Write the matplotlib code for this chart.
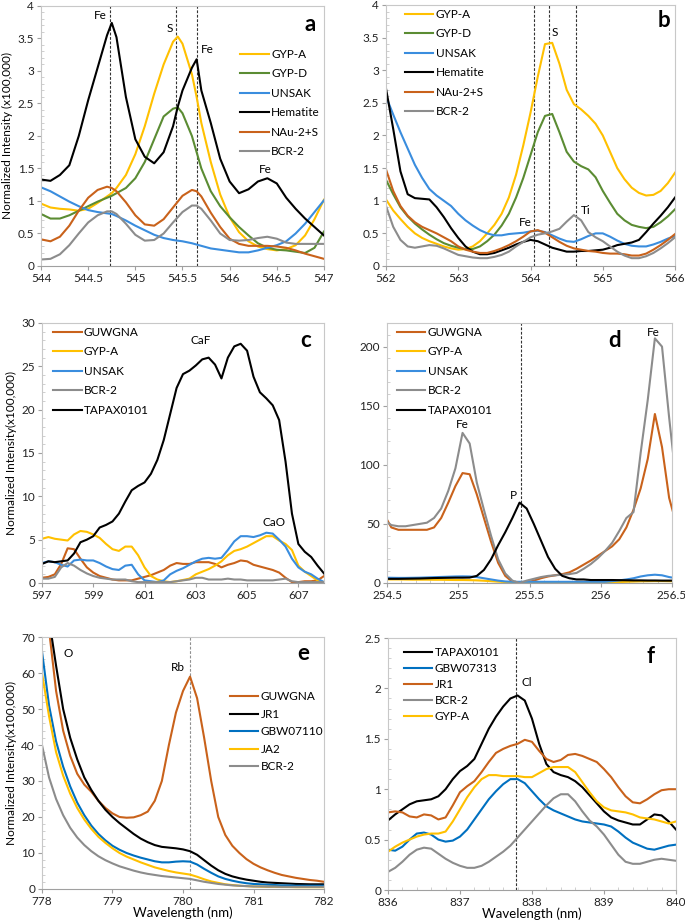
import matplotlib
matplotlib.use("Agg")
import matplotlib.pyplot as plt
from matplotlib.ticker import FuncFormatter, MultipleLocator, AutoMinorLocator

plt.rcParams['font.family'] = ['Lato', 'DejaVu Sans']

ORANGE = '#C9621B'
YELLOW = '#FFC000'
GREEN = '#5B8C33'
BLUE = '#3A8DDE'
BLUE2 = '#0070C0'
GRAY = '#8C8C8C'
BLACK = '#000000'

# ---------------- panel a ----------------
xa = [544.0, 544.1, 544.2, 544.3, 544.4, 544.5, 544.6, 544.7, 544.75, 544.8, 544.9,
      545.0, 545.1, 545.2, 545.3, 545.4, 545.45, 545.5, 545.6, 545.65, 545.7, 545.8, 545.9,
      546.0, 546.1, 546.2, 546.3, 546.4, 546.5, 546.6, 546.7, 546.8, 546.9, 547.0]
a_gypa = [0.96, 0.9, 0.88, 0.87, 0.85, 0.88, 0.97, 1.07, 1.12, 1.2, 1.4,
          1.72, 2.15, 2.65, 3.1, 3.45, 3.53, 3.42, 2.95, 2.6, 2.2, 1.6, 1.1,
          0.75, 0.52, 0.38, 0.3, 0.26, 0.24, 0.26, 0.32, 0.47, 0.72, 1.02]
a_gypd = [0.8, 0.73, 0.73, 0.78, 0.85, 0.92, 0.99, 1.05, 1.08, 1.12, 1.2,
          1.35, 1.6, 1.95, 2.3, 2.42, 2.44, 2.35, 2.0, 1.75, 1.5, 1.15, 0.92,
          0.75, 0.6, 0.47, 0.35, 0.28, 0.25, 0.24, 0.22, 0.2, 0.28, 0.53]
a_unsak = [1.21, 1.15, 1.07, 0.99, 0.92, 0.86, 0.83, 0.81, 0.8, 0.77, 0.7,
           0.62, 0.55, 0.48, 0.43, 0.4, 0.39, 0.38, 0.35, 0.33, 0.31, 0.27, 0.25,
           0.23, 0.21, 0.21, 0.24, 0.28, 0.32, 0.38, 0.5, 0.65, 0.83, 1.01]
a_hem = [1.33, 1.31, 1.4, 1.55, 2.0, 2.55, 3.05, 3.55, 3.74, 3.52, 2.6,
         1.95, 1.68, 1.58, 1.75, 2.15, 2.45, 2.7, 3.05, 3.18, 2.7, 2.2, 1.65,
         1.3, 1.12, 1.18, 1.3, 1.35, 1.27, 1.05, 0.88, 0.73, 0.6, 0.47]
a_nau = [0.41, 0.38, 0.45, 0.62, 0.85, 1.05, 1.17, 1.22, 1.2, 1.15, 0.98,
         0.78, 0.64, 0.62, 0.72, 0.9, 0.99, 1.08, 1.17, 1.15, 1.07, 0.82, 0.6,
         0.42, 0.34, 0.31, 0.31, 0.31, 0.3, 0.28, 0.24, 0.19, 0.15, 0.11]
a_bcr = [0.1, 0.11, 0.18, 0.32, 0.5, 0.67, 0.78, 0.84, 0.84, 0.8, 0.65,
         0.48, 0.39, 0.4, 0.5, 0.67, 0.75, 0.83, 0.93, 0.93, 0.88, 0.7, 0.5,
         0.4, 0.39, 0.4, 0.43, 0.45, 0.42, 0.36, 0.34, 0.34, 0.34, 0.34]

# ---------------- panel b ----------------
xb = [562 + 0.1 * i for i in range(41)]
b_gypa = [1.02, 0.85, 0.72, 0.6, 0.5, 0.43, 0.38, 0.34, 0.3, 0.27, 0.25, 0.26, 0.3, 0.38,
          0.5, 0.63, 0.8, 1.05, 1.4, 1.85, 2.35, 2.9, 3.4, 3.42, 3.1, 2.7, 2.48, 2.4, 2.3,
          2.18, 2.0, 1.75, 1.5, 1.33, 1.2, 1.12, 1.08, 1.09, 1.15, 1.27, 1.43]
b_gypd = [1.32, 1.1, 0.9, 0.76, 0.65, 0.56, 0.48, 0.41, 0.35, 0.31, 0.28, 0.26, 0.26, 0.3,
          0.38, 0.48, 0.62, 0.8, 1.05, 1.35, 1.7, 2.05, 2.3, 2.33, 2.05, 1.75, 1.6, 1.53,
          1.48, 1.36, 1.15, 0.97, 0.8, 0.7, 0.63, 0.6, 0.58, 0.6, 0.67, 0.76, 0.87]
b_unsak = [2.6, 2.32, 2.05, 1.8, 1.55, 1.35, 1.18, 1.08, 1.0, 0.92, 0.8, 0.7, 0.62, 0.55,
           0.5, 0.47, 0.47, 0.49, 0.5, 0.51, 0.53, 0.54, 0.52, 0.47, 0.42, 0.38, 0.37, 0.41,
           0.46, 0.5, 0.5, 0.45, 0.39, 0.34, 0.31, 0.3, 0.3, 0.33, 0.37, 0.42, 0.46]
b_hem = [2.72, 2.1, 1.45, 1.1, 1.04, 1.03, 1.02, 0.9, 0.75, 0.58, 0.43, 0.3, 0.22, 0.18,
         0.18, 0.2, 0.24, 0.28, 0.33, 0.37, 0.4, 0.38, 0.33, 0.28, 0.25, 0.22, 0.22, 0.23,
         0.23, 0.24, 0.25, 0.28, 0.32, 0.34, 0.36, 0.4, 0.52, 0.65, 0.77, 0.9, 1.05]
b_nau = [1.48, 1.15, 0.92, 0.77, 0.67, 0.6, 0.55, 0.5, 0.44, 0.38, 0.3, 0.25, 0.22, 0.2,
         0.2, 0.23, 0.27, 0.32, 0.38, 0.45, 0.53, 0.55, 0.51, 0.44, 0.37, 0.31, 0.27, 0.25,
         0.23, 0.22, 0.2, 0.19, 0.19, 0.18, 0.16, 0.16, 0.19, 0.25, 0.32, 0.4, 0.49]
b_bcr = [0.92, 0.6, 0.4, 0.3, 0.28, 0.3, 0.32, 0.31, 0.27, 0.22, 0.17, 0.15, 0.13, 0.12,
         0.12, 0.14, 0.17, 0.22, 0.3, 0.37, 0.44, 0.48, 0.5, 0.53, 0.57, 0.68, 0.78, 0.7,
         0.52, 0.44, 0.38, 0.3, 0.22, 0.16, 0.12, 0.12, 0.15, 0.2, 0.27, 0.35, 0.44]

# ---------------- panel c ----------------
xc = [597 + 0.25 * i for i in range(45)]
c_guw = [0.6, 0.7, 1.0, 2.2, 4.0, 3.9, 2.8, 1.8, 1.2, 0.8, 0.6, 0.4, 0.3, 0.3, 0.3, 0.5,
         0.7, 0.9, 1.2, 1.5, 2.0, 2.3, 2.2, 2.2, 2.4, 2.4, 2.4, 2.2, 1.8, 2.1, 2.3, 2.6,
         2.5, 2.1, 1.9, 1.7, 1.5, 1.2, 0.6, 0.1, 0.1, 0.2, 0.2, 0.3, 0.8]
c_gypa = [5.1, 5.3, 5.1, 5.0, 4.9, 5.6, 6.0, 5.9, 5.6, 5.2, 4.5, 3.9, 3.7, 4.2, 4.2, 3.2,
          1.8, 0.8, 0.4, 0.2, 0.1, 0.2, 0.35, 0.5, 1.0, 1.3, 1.6, 2.0, 2.5, 3.2, 3.7, 3.9,
          4.2, 4.6, 5.0, 5.4, 5.4, 4.9, 4.5, 3.8, 2.0, 1.3, 0.8, 0.3, 0.1]
c_unsak = [2.3, 2.5, 2.4, 2.1, 1.9, 2.6, 2.7, 2.6, 2.6, 2.3, 1.9, 1.6, 1.5, 2.0, 2.1, 1.0,
           0.3, 0.2, 0.1, 0.3, 1.0, 1.4, 1.7, 2.1, 2.5, 2.8, 2.9, 2.8, 2.9, 3.8, 4.8, 5.4,
           5.4, 5.3, 5.5, 5.8, 5.7, 5.0, 4.2, 2.8, 1.8, 1.3, 1.0, 0.5, 0.1]
c_bcr = [0.5, 0.5, 0.7, 1.8, 2.3, 2.0, 1.5, 1.1, 0.8, 0.6, 0.5, 0.4, 0.4, 0.4, 0.2, 0.1,
         0.1, 0.1, 0.1, 0.1, 0.1, 0.2, 0.3, 0.4, 0.6, 0.6, 0.4, 0.4, 0.4, 0.5, 0.4, 0.4,
         0.3, 0.3, 0.3, 0.3, 0.3, 0.4, 0.5, 0.2, 0.1, 0.1, 0.1, 0.1, 0.1]
c_tapax = [2.2, 2.5, 2.4, 2.5, 2.6, 3.4, 4.7, 5.0, 5.4, 6.4, 6.7, 7.1, 8.0, 9.4, 10.7, 11.2,
           11.6, 12.6, 14.2, 16.5, 19.5, 22.5, 24.1, 24.5, 25.1, 25.8, 26.0, 25.2, 23.6, 26.0,
           27.3, 27.6, 26.8, 23.8, 22.0, 21.3, 20.5, 18.8, 14.0, 8.0, 4.5, 3.6, 3.0, 2.0, 1.1]

# ---------------- panel d ----------------
xd = [254.48 + 0.05 * i for i in range(42)]
d_guw = [58, 47, 45, 45, 45, 45, 45, 47, 55, 68, 82, 93, 92, 75, 55, 35, 17, 6, 1, 0,
         0.5, 2, 4, 5.5, 6.5, 7.5, 9, 12, 15.5, 19, 23, 27, 31, 37, 47, 62, 80, 105, 143,
         115, 72, 50]
d_gypa = [3, 3, 3, 2.9, 2.8, 2.8, 2.8, 2.7, 2.7, 2.6, 2.5, 2.5, 2.4, 2.2, 1.9, 1.5, 1.1,
          0.8, 0.6, 0.5, 0.5, 0.5, 0.5, 0.5, 0.5, 0.5, 0.5, 0.5, 0.5, 0.5, 0.5, 0.6, 0.7,
          0.8, 1.0, 1.2, 1.4, 1.5, 1.6, 1.6, 1.5, 1.5]
d_unsak = [4.5, 4.4, 4.3, 4.3, 4.4, 4.5, 4.7, 4.9, 5.1, 5.3, 5.5, 5.6, 5.5, 5.0, 4.0, 3.0,
           2.0, 1.3, 1.0, 1.0, 1.0, 1.0, 1.0, 1.0, 1.0, 1.0, 1.0, 1.0, 1.0, 1.0, 1.0, 1.0,
           1.5, 2.2, 3.0, 4.0, 5.5, 6.5, 7.0, 6.5, 5.0, 4.0]
d_bcr = [53, 49, 48, 48, 49, 50, 51, 55, 63, 78, 97, 127, 118, 85, 62, 40, 20, 8, 2, 0,
         2, 3.5, 5, 6, 6.5, 7, 7.5, 8.5, 12, 16, 21, 27, 34, 44, 55, 60, 110, 155, 207,
         200, 140, 85]
d_tapax = [3.5, 3.5, 3.5, 3.6, 3.7, 3.8, 4.0, 4.2, 4.3, 4.4, 4.5, 4.5, 4.6, 6, 11, 20,
           32, 43, 55, 68, 63, 50, 36, 22, 12, 6, 4, 3, 3, 2.5, 2.5, 2.5, 2.5, 2.4, 2.3,
           2.2, 2.2, 2.1, 2.1, 2.0, 2.0, 2.0]

# ---------------- panel e ----------------
xe = [778 + 0.1 * i for i in range(41)]
e_guw = [85, 72, 55, 44, 37, 32, 29, 27, 24.5, 22.5, 21, 20, 19.8, 19.9, 20.5, 21.5,
         24.5, 30, 40, 49, 55, 59, 53, 42, 30, 20, 15, 12, 10, 8.3, 7, 6, 5.2, 4.5, 3.9,
         3.5, 3.1, 2.8, 2.5, 2.3, 2.0]
e_jr1 = [95, 75, 62, 50, 42, 36, 31, 27.5, 24.5, 22, 20, 18.3, 16.8, 15.3, 14.0, 13.0,
         12.2, 11.7, 11.5, 11.3, 11.0, 10.5, 9.5, 8.0, 6.5, 5.2, 4.2, 3.5, 3.0, 2.6, 2.3,
         2.0, 1.8, 1.7, 1.6, 1.5, 1.4, 1.35, 1.3, 1.3, 1.3]
e_gbw = [66, 51, 41, 34, 28.5, 24, 20.5, 17.6, 15.3, 13.5, 12.0, 10.9, 10.0, 9.3, 8.7,
         8.2, 7.7, 7.4, 7.4, 7.6, 7.7, 7.6, 6.8, 5.6, 4.5, 3.5, 2.8, 2.3, 1.9, 1.6, 1.4,
         1.3, 1.2, 1.1, 1.0, 1.0, 0.9, 0.9, 0.9, 0.9, 0.9]
e_ja2 = [60, 48, 38, 31.5, 26.5, 22.5, 19.3, 16.7, 14.5, 12.8, 11.3, 10.0, 9.0, 8.2, 7.4,
         6.7, 6.0, 5.5, 5.0, 4.6, 4.3, 4.0, 3.4, 2.7, 2.1, 1.7, 1.3, 1.1, 0.9, 0.8, 0.7,
         0.65, 0.6, 0.6, 0.55, 0.55, 0.5, 0.5, 0.5, 0.5, 0.5]
e_bcr = [40, 31, 25, 20.5, 17, 14.3, 12.2, 10.5, 9.1, 8.0, 7.1, 6.3, 5.7, 5.1, 4.6, 4.2,
         3.9, 3.6, 3.4, 3.2, 3.0, 2.8, 2.4, 2.0, 1.7, 1.4, 1.2, 1.0, 0.9, 0.8, 0.7, 0.7,
         0.65, 0.65, 0.6, 0.6, 0.6, 0.6, 0.6, 0.6, 0.6]

# ---------------- panel f ----------------
xf = [836 + 0.1 * i for i in range(41)]
f_tapax = [0.69, 0.75, 0.8, 0.85, 0.88, 0.89, 0.9, 0.93, 1.0, 1.1, 1.18, 1.23, 1.3, 1.45,
           1.6, 1.72, 1.82, 1.9, 1.93, 1.88, 1.7, 1.45, 1.25, 1.17, 1.14, 1.12, 1.08, 1.02,
           0.94, 0.86, 0.78, 0.72, 0.69, 0.67, 0.65, 0.65, 0.7, 0.75, 0.74, 0.68, 0.6]
f_gbw = [0.4, 0.39, 0.43, 0.5, 0.56, 0.57, 0.55, 0.5, 0.48, 0.49, 0.53, 0.6, 0.7, 0.8, 0.9,
         0.98, 1.05, 1.1, 1.1, 1.06, 0.98, 0.9, 0.83, 0.79, 0.76, 0.73, 0.7, 0.68, 0.67,
         0.66, 0.65, 0.63, 0.58, 0.52, 0.47, 0.44, 0.41, 0.4, 0.42, 0.44, 0.45]
f_jr1 = [0.77, 0.78, 0.77, 0.73, 0.72, 0.75, 0.74, 0.7, 0.72, 0.84, 0.97, 1.03, 1.08, 1.17,
         1.27, 1.36, 1.4, 1.43, 1.45, 1.49, 1.47, 1.38, 1.3, 1.27, 1.29, 1.34, 1.35, 1.33,
         1.3, 1.27, 1.2, 1.12, 1.02, 0.93, 0.87, 0.86, 0.9, 0.95, 0.99, 1.0, 1.0]
f_bcr = [0.18, 0.22, 0.28, 0.35, 0.4, 0.42, 0.41, 0.36, 0.31, 0.27, 0.24, 0.22, 0.22, 0.24,
         0.28, 0.33, 0.38, 0.44, 0.52, 0.6, 0.68, 0.76, 0.84, 0.91, 0.95, 0.95, 0.88, 0.78,
         0.69, 0.63, 0.55, 0.45, 0.35, 0.28, 0.26, 0.26, 0.28, 0.3, 0.31, 0.3, 0.29]
f_gypa = [0.38, 0.43, 0.47, 0.5, 0.53, 0.55, 0.56, 0.56, 0.58, 0.68, 0.8, 0.92, 1.02, 1.1,
          1.14, 1.14, 1.13, 1.13, 1.13, 1.12, 1.12, 1.16, 1.2, 1.22, 1.22, 1.22, 1.17, 1.07,
          0.97, 0.88, 0.82, 0.79, 0.78, 0.77, 0.75, 0.72, 0.71, 0.7, 0.68, 0.66, 0.68]

FS = 8.5
fmt = FuncFormatter(lambda v, p: '%g' % v)


def style(ax, xlim, ylim, xstep, ystep):
    ax.set_xlim(*xlim)
    ax.set_ylim(*ylim)
    ax.xaxis.set_major_locator(MultipleLocator(xstep))
    ax.yaxis.set_major_locator(MultipleLocator(ystep))
    ax.yaxis.set_minor_locator(AutoMinorLocator(5))
    ax.xaxis.set_major_formatter(fmt)
    ax.yaxis.set_major_formatter(fmt)
    for s in ax.spines.values():
        s.set_color('#C8C8C8')
        s.set_linewidth(0.8)
    ax.spines['bottom'].set_color('#A0A0A0')
    ax.tick_params(axis='both', which='major', labelsize=FS, length=3, color='#A0A0A0',
                   labelcolor='#222222', pad=2)
    ax.tick_params(axis='y', which='minor', length=2, color='#C8C8C8', direction='in')


def vline(ax, x, color='#333333'):
    ax.axvline(x, color=color, lw=0.8, ls=(0, (2.5, 1.5)), zorder=1)


def legend(ax, x, y, spacing=0.72):
    ax.legend(loc='upper left', bbox_to_anchor=(x, y), frameon=False, fontsize=FS,
              handlelength=2.4, handletextpad=0.2, labelspacing=spacing,
              borderpad=0, borderaxespad=0)


fig = plt.figure(figsize=(6.85, 9.22), dpi=100)
LW = 1.5

# a
ax = fig.add_axes([0.0599, 0.7115, 0.413, 0.282])
for x in (544.73, 545.43, 545.65):
    vline(ax, x)
ax.plot(xa, a_gypa, color=YELLOW, lw=LW, label='GYP-A')
ax.plot(xa, a_gypd, color=GREEN, lw=LW, label='GYP-D')
ax.plot(xa, a_unsak, color=BLUE, lw=LW, label='UNSAK')
ax.plot(xa, a_hem, color=BLACK, lw=LW, label='Hematite')
ax.plot(xa, a_nau, color=ORANGE, lw=LW, label='NAu-2+S')
ax.plot(xa, a_bcr, color=GRAY, lw=LW, label='BCR-2')
style(ax, (544, 547), (0, 4), 0.5, 0.5)
ax.set_ylabel('Normalized Intensity (x100,000)', fontsize=FS, labelpad=3)
ax.text(544.7, 3.8, 'Fe', fontsize=FS, ha='right')
ax.text(545.4, 3.6, 'S', fontsize=FS, ha='right')
ax.text(545.69, 3.27, 'Fe', fontsize=FS, ha='left')
ax.text(546.38, 1.43, 'Fe', fontsize=FS, ha='center')
ax.text(546.85, 3.62, 'a', fontsize=16, fontweight='bold', ha='center')
legend(ax, 0.705, 0.835)

# b
ax = fig.add_axes([0.5635, 0.7115, 0.422, 0.2831])
for x in (564.05, 564.25, 564.63):
    vline(ax, x)
ax.plot(xb, b_gypa, color=YELLOW, lw=LW, label='GYP-A')
ax.plot(xb, b_gypd, color=GREEN, lw=LW, label='GYP-D')
ax.plot(xb, b_unsak, color=BLUE, lw=LW, label='UNSAK')
ax.plot(xb, b_hem, color=BLACK, lw=LW, label='Hematite')
ax.plot(xb, b_nau, color=ORANGE, lw=LW, label='NAu-2+S')
ax.plot(xb, b_bcr, color=GRAY, lw=LW, label='BCR-2')
style(ax, (562, 566), (0, 4), 1, 0.5)
ax.text(564.02, 0.62, 'Fe', fontsize=FS, ha='right')
ax.text(564.29, 3.52, 'S', fontsize=FS, ha='left')
ax.text(564.7, 0.8, 'Ti', fontsize=FS, ha='left')
ax.text(565.85, 3.66, 'b', fontsize=16, fontweight='bold', ha='center')
legend(ax, 0.066, 0.985)

# c
ax = fig.add_axes([0.0613, 0.3677, 0.4117, 0.282])
ax.plot(xc, c_guw, color=ORANGE, lw=LW, label='GUWGNA')
ax.plot(xc, c_gypa, color=YELLOW, lw=LW, label='GYP-A')
ax.plot(xc, c_unsak, color=BLUE, lw=LW, label='UNSAK')
ax.plot(xc, c_bcr, color=GRAY, lw=LW, label='BCR-2')
ax.plot(xc, c_tapax, color=BLACK, lw=LW, label='TAPAX0101')
style(ax, (597, 608), (0, 30), 2, 5)
ax.set_xticks([597, 599, 601, 603, 605, 607])
ax.set_ylabel('Normalized Intensity(x100,000)', fontsize=FS, labelpad=3)
ax.text(603.2, 27.6, 'CaF', fontsize=FS, ha='center')
ax.text(606.05, 6.6, 'CaO', fontsize=FS, ha='center')
ax.text(607.3, 27.2, 'c', fontsize=16, fontweight='bold', ha='center')
legend(ax, 0.04, 0.985)

# d
ax = fig.add_axes([0.565, 0.3677, 0.416, 0.282])
vline(ax, 255.44)
ax.plot(xd, d_guw, color=ORANGE, lw=LW, label='GUWGNA')
ax.plot(xd, d_gypa, color=YELLOW, lw=LW, label='GYP-A')
ax.plot(xd, d_unsak, color=BLUE, lw=LW, label='UNSAK')
ax.plot(xd, d_bcr, color=GRAY, lw=LW, label='BCR-2')
ax.plot(xd, d_tapax, color=BLACK, lw=LW, label='TAPAX0101')
style(ax, (254.5, 256.5), (0, 220), 0.5, 50)
ax.xaxis.set_minor_locator(AutoMinorLocator(5))
ax.tick_params(axis='x', which='minor', length=2, color='#C8C8C8', direction='in')
ax.text(255.03, 131, 'Fe', fontsize=FS, ha='center')
ax.text(255.41, 71, 'P', fontsize=FS, ha='right')
ax.text(256.37, 209, 'Fe', fontsize=FS, ha='center')
ax.text(256.1, 200, 'd', fontsize=16, fontweight='bold', ha='center')
legend(ax, 0.035, 0.985)

# e
ax = fig.add_axes([0.0613, 0.0358, 0.4117, 0.2733])
vline(ax, 780.1, color='#909090')
ax.plot(xe, e_guw, color=ORANGE, lw=LW, label='GUWGNA')
ax.plot(xe, e_jr1, color=BLACK, lw=LW, label='JR1')
ax.plot(xe, e_gbw, color=BLUE2, lw=LW, label='GBW07110')
ax.plot(xe, e_ja2, color=YELLOW, lw=LW, label='JA2')
ax.plot(xe, e_bcr, color=GRAY, lw=LW, label='BCR-2')
style(ax, (778, 782), (0, 70), 1, 10)
ax.set_ylabel('Normalized Intensity(x100,000)', fontsize=FS, labelpad=3)
ax.set_xlabel('Wavelength (nm)', fontsize=FS + 1, labelpad=0)
ax.text(778.3, 64.5, 'O', fontsize=FS, ha='left')
ax.text(780.03, 60.5, 'Rb', fontsize=FS, ha='right')
ax.text(781.7, 63.5, 'e', fontsize=16, fontweight='bold', ha='center')
legend(ax, 0.667, 0.785, spacing=0.55)

# f
ax = fig.add_axes([0.5664, 0.0347, 0.4204, 0.2733])
vline(ax, 837.78)
ax.plot(xf, f_tapax, color=BLACK, lw=LW, label='TAPAX0101')
ax.plot(xf, f_gbw, color=BLUE2, lw=LW, label='GBW07313')
ax.plot(xf, f_jr1, color=ORANGE, lw=LW, label='JR1')
ax.plot(xf, f_bcr, color=GRAY, lw=LW, label='BCR-2')
ax.plot(xf, f_gypa, color=YELLOW, lw=LW, label='GYP-A')
style(ax, (836, 840), (0, 2.5), 1, 0.5)
ax.xaxis.set_minor_locator(AutoMinorLocator(5))
ax.tick_params(axis='x', which='minor', length=2, color='#C8C8C8', direction='in')
ax.set_xlabel('Wavelength (nm)', fontsize=FS + 1, labelpad=0)
ax.text(837.85, 2.02, 'Cl', fontsize=FS, ha='left')
ax.text(839.65, 2.25, 'f', fontsize=16, fontweight='bold', ha='center')
legend(ax, 0.056, 0.965, spacing=0.42)

fig.savefig('out.png', dpi=100)
